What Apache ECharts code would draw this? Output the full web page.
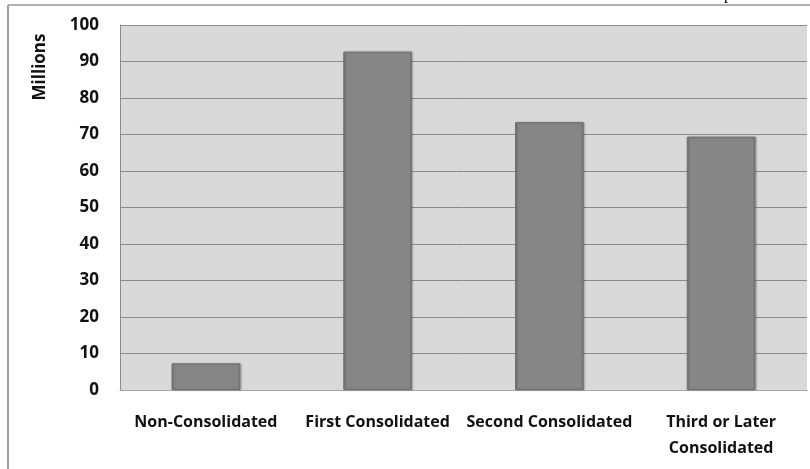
<!DOCTYPE html>
<html>
<head>
<meta charset="utf-8">
<style>
  html, body { margin: 0; padding: 0; background: #ffffff; }
  #chart { width: 810px; height: 469px; }
</style>
<script src="https://cdn.jsdelivr.net/npm/echarts@6/dist/echarts.min.js"></script>
</head>
<body>
<div id="chart"></div>
<script>
// Borrowers by consolidation stage, in millions
var categories = ['Non-Consolidated', 'First Consolidated', 'Second Consolidated', 'Third or Later\nConsolidated'];
var values = [7.3, 92.7, 73.4, 69.4];
var yTicks = [0, 10, 20, 30, 40, 50, 60, 70, 80, 90, 100];

var FONT = '"Open Sans", Lato, sans-serif';
var chart = echarts.init(document.getElementById('chart'), null, { renderer: 'canvas' });

chart.setOption({
  animation: false,
  backgroundColor: '#ffffff',
  grid: {
    left: 120, right: 3, top: 25, bottom: 79,
    show: true, backgroundColor: '#d9d9d9', borderWidth: 0
  },
  xAxis: {
    type: 'category',
    data: categories,
    axisLine: { show: true, lineStyle: { color: '#a6a6a6', width: 1 } },
    axisTick: { show: false },
    axisLabel: {
      color: '#111111', fontFamily: FONT, fontWeight: 'bold', fontSize: 16,
      margin: 19, lineHeight: 26, interval: 0
    }
  },
  yAxis: {
    type: 'value',
    min: yTicks[0], max: yTicks[yTicks.length - 1], interval: 10,
    axisLine: { show: true, lineStyle: { color: '#8c8c8c', width: 1 } },
    axisTick: { show: false },
    splitLine: { show: true, lineStyle: { color: '#8c8c8c', width: 1 } },
    axisLabel: {
      color: '#111111', fontFamily: FONT, fontWeight: 'bold', fontSize: 17, margin: 21
    }
  },
  series: [{
    type: 'bar',
    data: values,
    barWidth: '40%',
    itemStyle: {
      color: {
        type: 'linear', x: 0, y: 0, x2: 1, y2: 0,
        colorStops: [
          { offset: 0, color: '#777777' },
          { offset: 0.04, color: '#868686' },
          { offset: 0.96, color: '#868686' },
          { offset: 1, color: '#6f6f6f' }
        ]
      },
      borderColor: '#737373',
      borderWidth: 1,
      shadowColor: 'rgba(0,0,0,0.25)',
      shadowBlur: 2,
      shadowOffsetX: 1
    }
  }],
  graphic: [
    // outer frame lines
    { type: 'line', shape: { x1: 8, y1: 5, x2: 810, y2: 5 }, style: { stroke: '#b0b0b0', lineWidth: 2 } },
    { type: 'line', shape: { x1: 8, y1: 5, x2: 8, y2: 469 }, style: { stroke: '#a0a0a0', lineWidth: 2 } },
    // axis title
    {
      type: 'text', x: 40, y: 67, rotation: Math.PI / 2,
      style: {
        text: 'Millions', fill: '#111111', font: 'bold 17px ' + FONT,
        textAlign: 'center', textVerticalAlign: 'middle'
      }
    },
    // clipped text from above the frame
    {
      type: 'text', x: 724, y: -13,
      style: { text: 'p', fill: '#000000', font: '16px "Liberation Serif", serif' }
    }
  ]
});
</script>
</body>
</html>
